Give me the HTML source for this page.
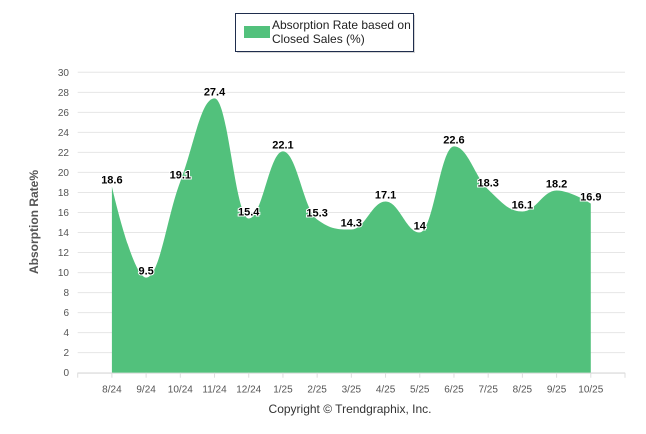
<!DOCTYPE html>
<html><head><meta charset="utf-8"><style>
body{margin:0;background:#fff;}
svg{display:block;font-family:"Liberation Sans",Arial,sans-serif;}
</style></head><body>
<svg id="chart" width="646" height="434">
<g id="grid"></g>
<g id="yticks"></g>
<path id="area" fill="#52c17c"></path>
<g id="labels"></g>
<g id="xticks"></g>
<text x="38" y="222" transform="rotate(-90 38 222)" text-anchor="middle" font-size="12" font-weight="bold" fill="#555">Absorption Rate%</text>
<text x="350" y="413" text-anchor="middle" font-size="12" fill="#333">Copyright © Trendgraphix, Inc.</text>
<g>
<rect x="237" y="15" width="178" height="38" fill="#999" opacity="0.4"></rect>
<rect x="235.5" y="13.5" width="178" height="38" fill="#fff" stroke="#1f2d4d"></rect>
<rect x="244" y="26" width="26" height="12" fill="#52c17c"></rect>
<text x="272" y="29" font-size="12" fill="#222">Absorption Rate based on</text>
<text x="272" y="43" font-size="12" fill="#222">Closed Sales (%)</text>
</g>
</svg>
<script>
const categories=["8/24","9/24","10/24","11/24","12/24","1/25","2/25","3/25","4/25","5/25","6/25","7/25","8/25","9/25","10/25"];
const values=[18.6,9.5,19.1,27.4,15.4,22.1,15.3,14.3,17.1,14,22.6,18.3,16.1,18.2,16.9];
const yTicks=[0,2,4,6,8,10,12,14,16,18,20,22,24,26,28,30];
const NS="http://www.w3.org/2000/svg";
const X0=77.7,X1=625,Y0=372.7,Y1=72.3,yMax=30;
const step=(X1-X0)/(categories.length+1);
const xs=i=>X0+step*(i+1);
const ys=v=>Y0-(Y0-Y1)*v/yMax;
function mk(tag,attrs,parent){const e=document.createElementNS(NS,tag);for(const k in attrs)e.setAttribute(k,attrs[k]);parent.appendChild(e);return e;}
const grid=document.getElementById('grid'),yt=document.getElementById('yticks'),xt=document.getElementById('xticks'),lab=document.getElementById('labels');
yTicks.forEach(t=>{
 const l=mk('line',{x1:X0,x2:X1,y1:ys(t),y2:ys(t),stroke:'#e6e6e6'},grid);
 
 
 const tx=mk('text',{x:69,y:ys(t)+3.5,'text-anchor':'end','font-size':10,fill:'#555'},yt);
 tx.textContent=t;
 
 
});
const ax=mk('line',{x1:X0,x2:X1,y1:Y0+0.5,y2:Y0+0.5,stroke:'#ddd'},xt);


for(let i=-1;i<=categories.length;i++){
 const x=i<0?X0:(i==categories.length?X1:xs(i));
 const tk=mk('line',{x1:x,x2:x,y1:Y0,y2:Y0+5,stroke:'#ddd'},xt);
 
 
}
categories.forEach((c,i)=>{
 const tx=mk('text',{x:xs(i),y:Y0+20,'text-anchor':'middle','font-size':10,fill:'#555'},xt);
 tx.textContent=c;
 
 
});
// Highcharts-style spline
const pts=values.map((v,i)=>[xs(i),ys(v)]);
let d='M'+pts[0][0]+','+pts[0][1];
const sm=1.5,den=sm+1;
const ctrl=[];
for(let i=1;i<pts.length-1;i++){
 const [px,py]=pts[i],[lx,ly]=pts[i-1],[nx,ny]=pts[i+1];
 let lcx=(sm*px+lx)/den,lcy=(sm*py+ly)/den,rcx=(sm*px+nx)/den,rcy=(sm*py+ny)/den;
 let corr=0;if(rcx!==lcx)corr=((rcy-lcy)*(rcx-px))/(rcx-lcx)+py-rcy;
 lcy+=corr;rcy+=corr;
 if(lcy>Math.max(ly,py)){lcy=Math.max(ly,py);rcy=2*py-lcy;}else if(lcy<Math.min(ly,py)){lcy=Math.min(ly,py);rcy=2*py-lcy;}
 if(rcy>Math.max(ny,py)){rcy=Math.max(ny,py);lcy=2*py-rcy;}else if(rcy<Math.min(ny,py)){rcy=Math.min(ny,py);lcy=2*py-rcy;}
 ctrl[i]={l:[lcx,lcy],r:[rcx,rcy]};
}
for(let i=1;i<pts.length;i++){
 const a=ctrl[i-1]?ctrl[i-1].r:pts[i-1];
 const b=ctrl[i]?ctrl[i].l:pts[i];
 d+=' C'+a[0]+','+a[1]+' '+b[0]+','+b[1]+' '+pts[i][0]+','+pts[i][1];
}
d+=' L'+pts[pts.length-1][0]+','+Y0+' L'+pts[0][0]+','+Y0+' Z';
document.getElementById('area').setAttribute('d',d);
values.forEach((v,i)=>{
 const tx=mk('text',{x:xs(i),y:ys(v)-3,'text-anchor':'middle','font-size':11,'font-weight':'bold',fill:'#000',stroke:'#fff','stroke-width':2,'paint-order':'stroke'},lab);
 tx.textContent=v;
 
 
});
</script>
</body></html>
